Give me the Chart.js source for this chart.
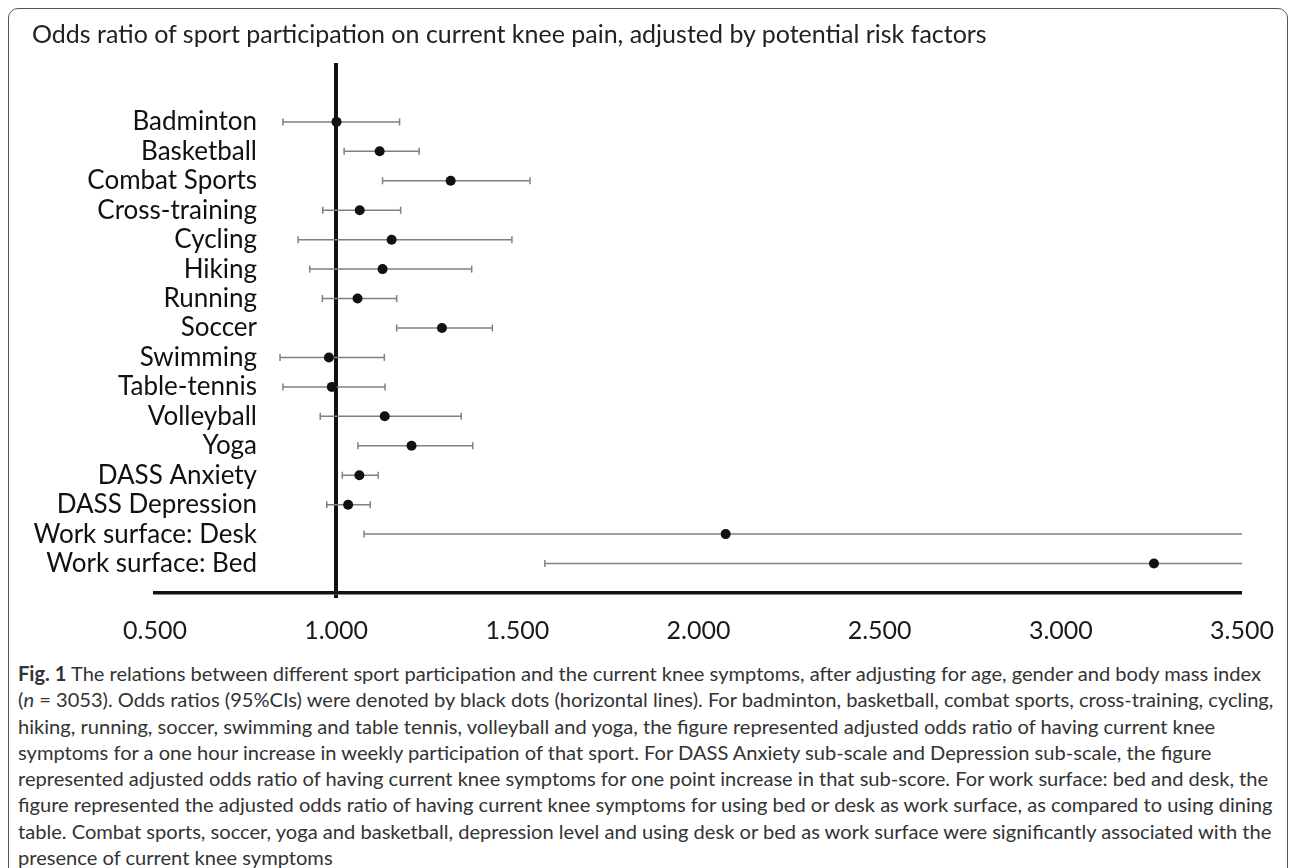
<!DOCTYPE html>
<html lang="en">
<head>
    <meta charset="UTF-8">
    <title>Odds ratio of sport participation</title>
    <script src="https://cdn.jsdelivr.net/npm/chart.js"></script>
    <style>
        body { margin: 0; background: #fff; font-family: Lato, sans-serif; }
        .frame { position: absolute; left: 8px; top: 8px; width: 1278px; height: 900px;
                 border: 1.5px solid #555; border-radius: 10px; }
        .title { position: absolute; left: 32px; top: 18px; font-size: 25px; color: #222; white-space: nowrap; }
        .wrap { position: absolute; left: 0; top: 0; width: 1295px; height: 650px; }
        .caption { position: absolute; left: 18px; top: 660px; font-size: 20.1px; line-height: 26.3px; color: #333; white-space: nowrap; }
    </style>
</head>
<body>
    <div class="frame"></div>
    <div class="wrap"><canvas id="forest"></canvas></div>
    <div class="title">Odds ratio of sport participation on current knee pain, adjusted by potential risk factors</div>
    <div class="caption">
        <b>Fig. 1</b> The relations between different sport participation and the current knee symptoms, after adjusting for age, gender and body mass index<br>
        (<i>n</i> = 3053). Odds ratios (95%CIs) were denoted by black dots (horizontal lines). For badminton, basketball, combat sports, cross-training, cycling,<br>
        hiking, running, soccer, swimming and table tennis, volleyball and yoga, the figure represented adjusted odds ratio of having current knee<br>
        symptoms for a one hour increase in weekly participation of that sport. For DASS Anxiety sub-scale and Depression sub-scale, the figure<br>
        represented adjusted odds ratio of having current knee symptoms for one point increase in that sub-score. For work surface: bed and desk, the<br>
        figure represented the adjusted odds ratio of having current knee symptoms for using bed or desk as work surface, as compared to using dining<br>
        table. Combat sports, soccer, yoga and basketball, depression level and using desk or bed as work surface were significantly associated with the<br>
        presence of current knee symptoms
    </div>

    <script>
        const categories = ['Badminton', 'Basketball', 'Combat Sports', 'Cross-training', 'Cycling', 'Hiking',
            'Running', 'Soccer', 'Swimming', 'Table-tennis', 'Volleyball', 'Yoga',
            'DASS Anxiety', 'DASS Depression', 'Work surface: Desk', 'Work surface: Bed'];
        const oddsRatio = [1.001, 1.120, 1.316, 1.065, 1.153, 1.128, 1.059, 1.292, 0.980, 0.988, 1.134, 1.208, 1.064, 1.033, 2.075, 3.257];
        const ciLower   = [0.853, 1.022, 1.128, 0.963, 0.895, 0.927, 0.962, 1.167, 0.845, 0.853, 0.956, 1.060, 1.017, 0.974, 1.077, 1.576];
        const ciUpper   = [1.175, 1.229, 1.535, 1.178, 1.485, 1.374, 1.167, 1.431, 1.133, 1.135, 1.345, 1.377, 1.116, 1.094, 4.000, 6.700];
        const xTicks = [0.5, 1.0, 1.5, 2.0, 2.5, 3.0, 3.5];

        // rows sit on a 0..18 scale, first category at 2
        const firstRow = 2;
        const rowMax = categories.length + 2;

        const whiskers = categories.map((c, i) => ({
            type: 'line',
            data: [{ x: ciLower[i], y: i + firstRow }, { x: ciUpper[i], y: i + firstRow }],
            borderColor: '#808080',
            borderWidth: 1.5,
            pointStyle: 'line',
            rotation: 90,
            pointRadius: 3.5,
            pointBorderColor: '#808080',
            pointBorderWidth: 1.5,
            order: 2
        }));

        const dots = {
            type: 'scatter',
            data: categories.map((c, i) => ({ x: oddsRatio[i], y: i + firstRow })),
            backgroundColor: '#111',
            borderWidth: 0,
            pointRadius: 5,
            order: 1
        };

        // category names sit inside the plot, right-aligned at a fixed gap from the axis box
        const rowLabels = {
            id: 'rowLabels',
            afterDraw(chart) {
                const y = chart.scales.y;
                const ctx = chart.ctx;
                ctx.save();
                ctx.font = '26px Lato';
                ctx.fillStyle = '#111';
                ctx.textAlign = 'right';
                ctx.textBaseline = 'middle';
                categories.forEach((c, i) => {
                    ctx.fillText(c, y.right + 102, y.getPixelForValue(i + firstRow));
                });
                ctx.restore();
            }
        };

        new Chart(document.getElementById('forest'), {
            type: 'scatter',
            data: { datasets: [dots, ...whiskers] },
            plugins: [rowLabels],
            options: {
                responsive: true,
                maintainAspectRatio: false,
                animation: false,
                layout: { padding: { top: 63, right: 53, bottom: 0, left: 0 } },
                plugins: { legend: { display: false }, tooltip: { enabled: false } },
                scales: {
                    x: {
                        type: 'linear',
                        min: 0.5,
                        max: 3.5,
                        afterBuildTicks: s => { s.ticks = xTicks.map(v => ({ value: v })); },
                        afterFit: s => { s.height = 57; },
                        ticks: {
                            callback: v => Number(v).toFixed(3),
                            font: { family: 'Lato', size: 25 },
                            color: '#1a1a1a',
                            padding: 18,
                            maxRotation: 0
                        },
                        grid: {
                            color: ctx => (ctx.tick && ctx.tick.value === 1 ? '#111' : 'rgba(0,0,0,0)'),
                            lineWidth: ctx => (ctx.tick && ctx.tick.value === 1 ? 4 : 0),
                            drawTicks: true,
                            tickLength: 5
                        },
                        border: { display: true, color: '#111', width: 3.5 }
                    },
                    y: {
                        type: 'linear',
                        reverse: true,
                        min: 0,
                        max: rowMax,
                        afterFit: s => { s.width = 155; },
                        ticks: { display: false },
                        grid: { display: false, drawTicks: false },
                        border: { display: false }
                    }
                }
            }
        });
    </script>
</body>
</html>
